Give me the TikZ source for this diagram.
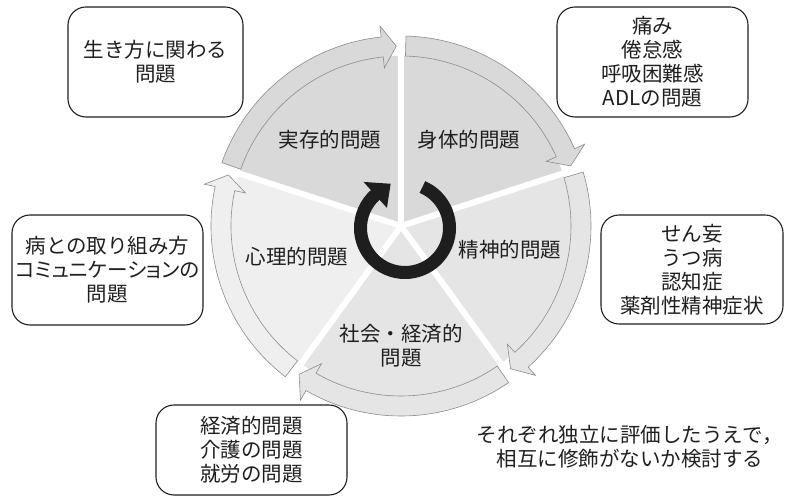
\documentclass[tikz,border=0pt]{standalone}
\usepackage{fontspec}
\setmainfont{Noto Sans CJK JP}
\usetikzlibrary{calc}
\definecolor{secA}{HTML}{D9D9D9}
\definecolor{secB}{HTML}{E5E5E5}
\definecolor{secC}{HTML}{EFEFEF}
\definecolor{bandline}{HTML}{8C8C8C}
\definecolor{txt}{HTML}{1F1F1F}
\definecolor{ringc}{HTML}{1E1E1E}
\tikzset{
  lbl/.style={font=\fontsize{20.5}{24}\selectfont, text=txt, inner sep=0pt, align=center},
  infobox/.style={draw=txt, line width=1.1pt, rounded corners=18pt, font=\fontsize{20.5}{24}\selectfont, text=txt, align=center, inner sep=0pt},
}
\begin{document}
\begin{tikzpicture}[x=1pt,y=1pt]
\useasboundingbox (0,0) rectangle (785,498);
\coordinate (C) at (401,272);
\coordinate (R) at (405,270);
\def\Ro{190}\def\Ri{170}\def\Rm{180}\def\Rw{201}\def\Rv{159}
\begin{scope}[shift={(C)}]
  \foreach \sa/\col in {90/secA, 18/secB, -54/secB, -126/secC, 162/secA} {
    \pgfmathsetmacro\sb{\sa-72}
    \fill[\col] (0,0) -- (\sa:\Ri) arc[start angle=\sa, end angle=\sb, radius=\Ri] -- cycle;
  }
  \foreach \sa in {90,18,-54,-126,162}
    \draw[white, line width=6pt] (0,0) -- (\sa:215);
  \foreach \sa/\col in {90/secA, 18/secB, -54/secB, -126/secC, 162/secA} {
    \pgfmathsetmacro\ss{\sa-1.5}
    \pgfmathsetmacro\se{\sa-72+6}
    \pgfmathsetmacro\st{\sa-72+1.5}
    \filldraw[fill=\col, draw=bandline, line width=0.6pt, line join=miter]
      (\ss:\Ro) arc[start angle=\ss, end angle=\se, radius=\Ro]
      -- (\se:\Rw) -- (\st:\Rm) -- (\se:\Rv) -- (\se:\Ri)
      arc[start angle=\se, end angle=\ss, radius=\Ri] -- cycle;
  }
\end{scope}
% central cycle arrow
\begin{scope}[shift={(R)}]
  \draw[ringc, line width=13pt] (67:44.5) arc[start angle=67, end angle=-229, radius=44.5];
  \fill[ringc] (132:27) -- (108:46.5) -- (132:62) -- cycle;
\end{scope}
% sector labels
\node[lbl] (l1) at (330,358) {実存的問題};
\node[lbl] (l2) at (469,358) {身体的問題};
\node[lbl] (l3) at (510,248) {精神的問題};
\node[lbl] (l4) at (297,241) {心理的問題};
\node[lbl] (l5) at (401,152.5) {社会・経済的\\問題};
% boxes
\node[infobox, minimum width=175pt, minimum height=110pt] (b1) at (155.5,436) {生き方に関わる\\問題};
\node[infobox, minimum width=191pt, minimum height=110pt] (b2) at (652.5,436) {痛み\\倦怠感\\呼吸困難感\\ADLの問題};
\node[infobox, minimum width=191pt, minimum height=110pt] (b3) at (107.5,228) {病との取り組み方\\{\addfontfeature{RawFeature=+palt}コミュニケーションの}\\問題};
\node[infobox, minimum width=182pt, minimum height=109pt] (b4) at (692,228.5) {せん妄\\うつ病\\認知症\\薬剤性精神症状};
\node[infobox, minimum width=191pt, minimum height=90pt] (b5) at (251.5,48) {経済的問題\\介護の問題\\就労の問題};
\node[lbl] (note) at (630,51.5) {それぞれ独立に評価したうえで，\\相互に修飾がないか検討する};
\end{tikzpicture}
\end{document}
